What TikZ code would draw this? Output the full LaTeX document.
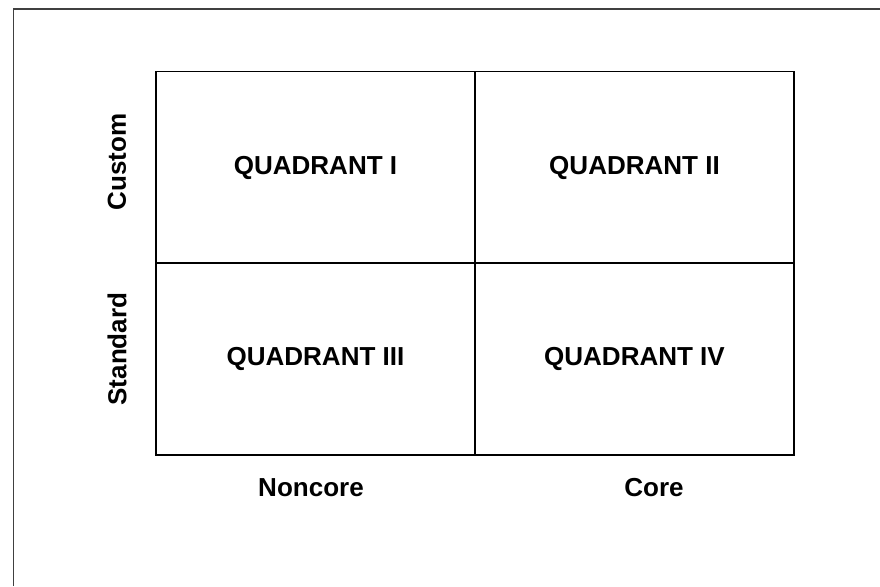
\documentclass[tikz,border=0pt]{standalone}
\usepackage{fontspec}
\setmainfont{Liberation Sans}
\tikzset{
testo/.style={font=\fontsize{18.5}{22}\selectfont\bfseries},
cella/.style={rectangle,draw,line width=1.1pt,minimum width=7.975cm,minimum height=4.79cm,inner sep=0pt,testo},
asse/.style={testo},
cornice/.style={draw=black!75,line width=0.75pt}}

\begin{document}
\begin{tikzpicture}[x=0.025cm,y=-0.025cm]
\useasboundingbox (0,0) rectangle (880,586);
\coordinate (bl) at (13.5,586);
\coordinate (tr) at (880,9);
\draw[cornice] (bl) |- (tr);

\node[cella] (1) at (315.5,167.5) {QUADRANT I};
\node[cella] (2) at (634.5,167.5) {QUADRANT II};
\node[cella] (3) at (315.5,359) {QUADRANT III};
\node[cella] (4) at (634.5,359) {QUADRANT IV};

\node[asse,rotate=90] (custom) at (117,162) {Custom};
\node[asse,rotate=90] (standard) at (117,349) {Standard};
\node[asse] (noncore) at (311,488) {Noncore};
\node[asse] (core) at (654,488) {Core};
\end{tikzpicture}
\end{document}
